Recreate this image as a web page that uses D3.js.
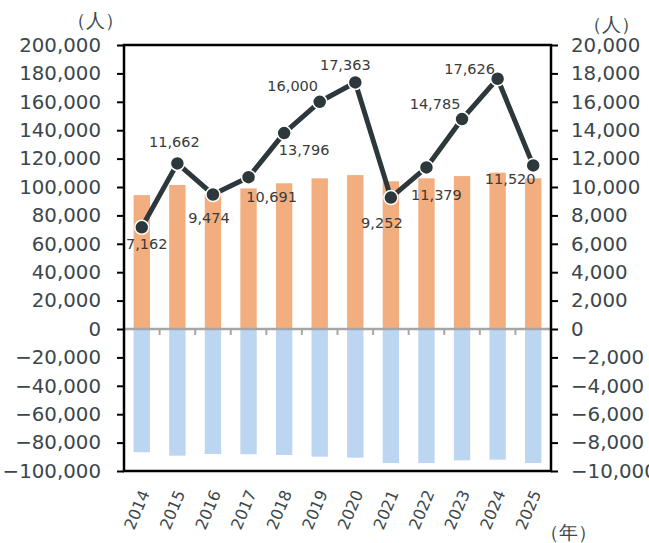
<!DOCTYPE html>
<html>
<head>
<meta charset="utf-8">
<script src="https://cdn.jsdelivr.net/npm/d3@7"></script>
<style>
  body { margin: 0; background: #fff; }
  svg { font-family: "DejaVu Sans", Verdana, sans-serif; }
</style>
</head>
<body>
<svg id="chart"></svg>
<script>
const years = ["2014", "2015", "2016", "2017", "2018", "2019", "2020", "2021", "2022", "2023", "2024", "2025"];
const inflow = [94300, 101400, 95000, 99000, 102600, 106100, 108400, 104000, 106100, 107700, 110100, 106100];
const outflow = [-86800, -89200, -88000, -88200, -88700, -89900, -90600, -94400, -94400, -92500, -92000, -94400];
const netValues = [7162, 11662, 9474, 10691, 13796, 16000, 17363, 9252, 11379, 14785, 17626, 11520];
const leftTicks = [200000, 180000, 160000, 140000, 120000, 100000, 80000, 60000, 40000, 20000, 0, -20000, -40000, -60000, -80000, -100000];
const rightTicks = [20000, 18000, 16000, 14000, 12000, 10000, 8000, 6000, 4000, 2000, 0, -2000, -4000, -6000, -8000, -10000];
// label offsets from each marker (dx, dy)
const labelOffsets = [[5, 17], [-3, -21], [-4, 23], [23, 20], [20, 17], [-27, -16], [-10, -18], [-9, 25], [10, 28], [-27, -15], [-28, -10], [-23, 14]];

const width = 649;
const height = 543;
const margin = { top: 45, right: 98, bottom: 72, left: 124 };

const svg = d3.select("#chart").attr("width", width).attr("height", height);

const x = d3.scaleBand()
  .domain(years)
  .range([margin.left, width - margin.right])
  .paddingInner(0.54)
  .paddingOuter(0.27);

const yLeft = d3.scaleLinear()
  .domain([-100000, 200000])
  .range([height - margin.bottom, margin.top]);

const yRight = d3.scaleLinear()
  .domain([-10000, 20000])
  .range([height - margin.bottom, margin.top]);

const fmt = d3.format(",");
const tickColor = "#3b474c";

// bars
svg.append("g")
  .selectAll("rect")
  .data(years)
  .join("rect")
  .attr("x", (d) => x(d))
  .attr("width", x.bandwidth())
  .attr("y", (d, i) => yLeft(inflow[i]))
  .attr("height", (d, i) => yLeft(0) - yLeft(inflow[i]))
  .attr("fill", "#f2ae7f");

svg.append("g")
  .selectAll("rect")
  .data(years)
  .join("rect")
  .attr("x", (d) => x(d))
  .attr("width", x.bandwidth())
  .attr("y", yLeft(0))
  .attr("height", (d, i) => yLeft(outflow[i]) - yLeft(0))
  .attr("fill", "#bcd5f0");

// zero line with category ticks
const bounds = d3.range(1, years.length).map((i) => margin.left + (width - margin.left - margin.right) * i / years.length);
const zeroG = svg.append("g");
zeroG.append("line")
  .attr("x1", margin.left).attr("x2", width - margin.right)
  .attr("y1", yLeft(0)).attr("y2", yLeft(0))
  .attr("stroke", "#a6a6a6").attr("stroke-width", 2.5);
zeroG.selectAll(".zt")
  .data(bounds)
  .join("line")
  .attr("x1", (d) => d).attr("x2", (d) => d)
  .attr("y1", yLeft(0)).attr("y2", yLeft(0) + 6)
  .attr("stroke", "#a6a6a6").attr("stroke-width", 2);

// left axis
const leftAxis = svg.append("g")
  .attr("transform", `translate(${margin.left},0)`)
  .call(d3.axisLeft(yLeft).tickValues(leftTicks).tickFormat(fmt).tickSize(7).tickPadding(16))
  .attr("font-family", null)
  .attr("font-size", null);
leftAxis.select(".domain").remove();
leftAxis.selectAll("line").attr("stroke", "#000").attr("stroke-width", 2);
leftAxis.selectAll("text").attr("fill", tickColor).style("font-size", "19.8px");

// right axis
const rightAxis = svg.append("g")
  .attr("transform", `translate(${width - margin.right},0)`)
  .call(d3.axisRight(yRight).tickValues(rightTicks).tickFormat(fmt).tickSize(7).tickPadding(13))
  .attr("font-family", null)
  .attr("font-size", null);
rightAxis.select(".domain").remove();
rightAxis.selectAll("line").attr("stroke", "#000").attr("stroke-width", 2);
rightAxis.selectAll("text").attr("fill", tickColor).style("font-size", "19.8px");

// frame
svg.append("rect")
  .attr("x", margin.left)
  .attr("y", margin.top)
  .attr("width", width - margin.left - margin.right)
  .attr("height", height - margin.top - margin.bottom)
  .attr("fill", "none")
  .attr("stroke", "#000")
  .attr("stroke-width", 2.5);

// year labels
svg.append("g")
  .selectAll("text")
  .data(years)
  .join("text")
  .attr("transform", (d) => `translate(${x(d) + x.bandwidth() / 2 + 3},${height - margin.bottom + 20}) rotate(-67)`)
  .attr("text-anchor", "end")
  .attr("dy", "0.35em")
  .attr("fill", tickColor)
  .style("font-size", "16px")
  .text((d) => d);

// line
const cx = (d, i) => x(years[i]) + x.bandwidth() / 2;
const line = d3.line()
  .x((d, i) => cx(d, i))
  .y((d) => yRight(d));

svg.append("path")
  .datum(netValues)
  .attr("fill", "none")
  .attr("stroke", "#2c383c")
  .attr("stroke-width", 5)
  .attr("stroke-linejoin", "round")
  .attr("d", line);

svg.append("g")
  .selectAll("circle")
  .data(netValues)
  .join("circle")
  .attr("cx", cx)
  .attr("cy", (d) => yRight(d))
  .attr("r", 7)
  .attr("fill", "#2c383c")
  .attr("stroke", "#fff")
  .attr("stroke-width", 1.5);

// data labels
svg.append("g")
  .selectAll("text")
  .data(netValues)
  .join("text")
  .attr("x", (d, i) => cx(d, i) + labelOffsets[i][0])
  .attr("y", (d, i) => yRight(d) + labelOffsets[i][1])
  .attr("text-anchor", "middle")
  .attr("dy", "0.35em")
  .attr("fill", "#3a3a3a")
  .style("font-size", "14.5px")
  .text((d) => fmt(d));

// unit labels
svg.append("text")
  .attr("x", 95).attr("y", 20)
  .attr("text-anchor", "middle").attr("dy", "0.35em")
  .attr("fill", tickColor).style("font-size", "19px")
  .text("（人）");
svg.append("text")
  .attr("x", 611).attr("y", 24)
  .attr("text-anchor", "middle").attr("dy", "0.35em")
  .attr("fill", tickColor).style("font-size", "19px")
  .text("（人）");
svg.append("text")
  .attr("x", 568).attr("y", 532)
  .attr("text-anchor", "middle").attr("dy", "0.35em")
  .attr("fill", tickColor).style("font-size", "19px")
  .text("（年）");
</script>
</body>
</html>
